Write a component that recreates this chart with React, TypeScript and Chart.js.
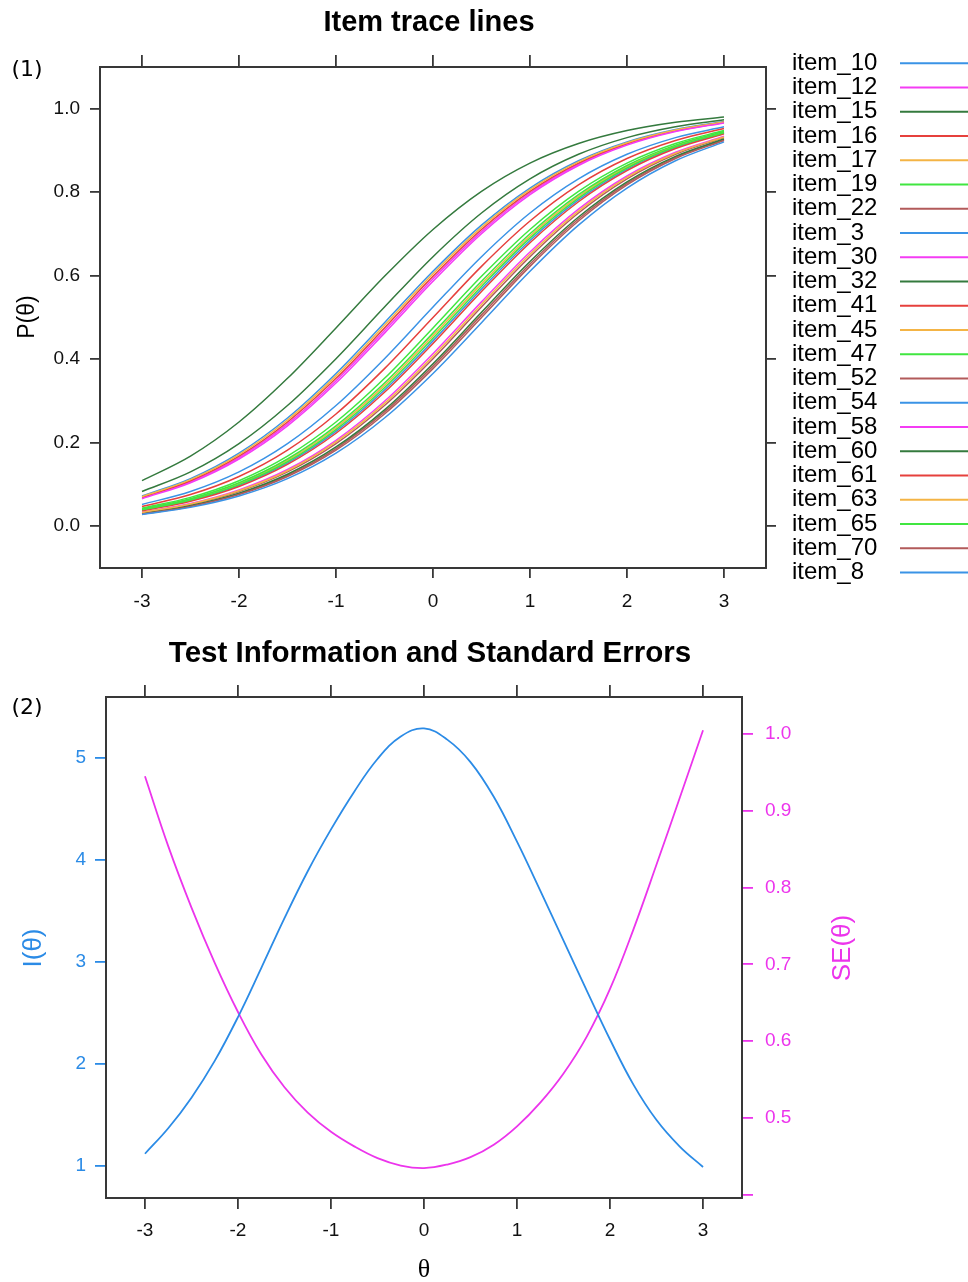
import React, { useEffect, useRef } from "react";
import { Chart, registerables } from "chart.js";

Chart.register(...registerables);

// ---------------- data ----------------
const THETA_GRID = [-3, -2.5, -2, -1.5, -1, -0.5, 0, 0.5, 1, 1.5, 2, 2.5, 3];
const THETA_TICKS = [-3, -2, -1, 0, 1, 2, 3];
const THETA_TICK_LABELS = ["-3", "-2", "-1", "0", "1", "2", "3"];
const P_TICKS = [0, 0.2, 0.4, 0.6, 0.8, 1.0];
const P_TICK_LABELS = ["0.0", "0.2", "0.4", "0.6", "0.8", "1.0"];

const ITEM_NAMES = [
  "item_10", "item_12", "item_15", "item_16", "item_17", "item_19", "item_22",
  "item_3", "item_30", "item_32", "item_41", "item_45", "item_47", "item_52",
  "item_54", "item_58", "item_60", "item_61", "item_63", "item_65", "item_70", "item_8",
];

// P(theta) of each item at THETA_GRID, in ITEM_NAMES order
const ITEM_P = [
  [0.0724, 0.1140, 0.1751, 0.2592, 0.3659, 0.4875, 0.6106, 0.7211, 0.8100, 0.8754, 0.9206, 0.9503, 0.9693], // item_10
  [0.0676, 0.1067, 0.1646, 0.2451, 0.3487, 0.4688, 0.5927, 0.7058, 0.7982, 0.8670, 0.9149, 0.9466, 0.9669], // item_12
  [0.1091, 0.1680, 0.2497, 0.3543, 0.4750, 0.5987, 0.7109, 0.8022, 0.8699, 0.9168, 0.9478, 0.9677, 0.9802], // item_15
  [0.0691, 0.1091, 0.1680, 0.2497, 0.3543, 0.4750, 0.5987, 0.7109, 0.8022, 0.8699, 0.9168, 0.9478, 0.9677], // item_16
  [0.0708, 0.1116, 0.1716, 0.2545, 0.3601, 0.4813, 0.6047, 0.7160, 0.8061, 0.8727, 0.9187, 0.9491, 0.9685], // item_17
  [0.0431, 0.0691, 0.1091, 0.1680, 0.2497, 0.3543, 0.4750, 0.5987, 0.7109, 0.8022, 0.8699, 0.9168, 0.9478], // item_19
  [0.0323, 0.0522, 0.0832, 0.1301, 0.1978, 0.2891, 0.4013, 0.5250, 0.6457, 0.7503, 0.8320, 0.8909, 0.9309], // item_22
  [0.0522, 0.0832, 0.1301, 0.1978, 0.2891, 0.4013, 0.5250, 0.6457, 0.7503, 0.8320, 0.8909, 0.9309, 0.9569], // item_3
  [0.0660, 0.1043, 0.1611, 0.2405, 0.3430, 0.4626, 0.5866, 0.7006, 0.7941, 0.8641, 0.9129, 0.9454, 0.9661], // item_30
  [0.0832, 0.1301, 0.1978, 0.2891, 0.4013, 0.5250, 0.6457, 0.7503, 0.8320, 0.8909, 0.9309, 0.9569, 0.9734], // item_32
  [0.0474, 0.0759, 0.1192, 0.1824, 0.2689, 0.3775, 0.5000, 0.6225, 0.7311, 0.8176, 0.8808, 0.9241, 0.9526], // item_41
  [0.0402, 0.0645, 0.1021, 0.1578, 0.2360, 0.3374, 0.4564, 0.5805, 0.6953, 0.7900, 0.8611, 0.9109, 0.9441], // item_45
  [0.0411, 0.0660, 0.1043, 0.1611, 0.2405, 0.3430, 0.4626, 0.5866, 0.7006, 0.7941, 0.8641, 0.9129, 0.9454], // item_47
  [0.0300, 0.0486, 0.0777, 0.1219, 0.1862, 0.2739, 0.3835, 0.5063, 0.6283, 0.7360, 0.8213, 0.8834, 0.9259], // item_52
  [0.0383, 0.0616, 0.0976, 0.1513, 0.2271, 0.3263, 0.4440, 0.5683, 0.6846, 0.7816, 0.8550, 0.9068, 0.9413], // item_54
  [0.0339, 0.0546, 0.0871, 0.1359, 0.2059, 0.2994, 0.4134, 0.5374, 0.6570, 0.7595, 0.8389, 0.8957, 0.9340], // item_58
  [0.0307, 0.0497, 0.0794, 0.1246, 0.1900, 0.2789, 0.3894, 0.5125, 0.6341, 0.7408, 0.8249, 0.8860, 0.9276], // item_60
  [0.0373, 0.0601, 0.0953, 0.1481, 0.2227, 0.3208, 0.4378, 0.5622, 0.6792, 0.7773, 0.8519, 0.9047, 0.9399], // item_61
  [0.0331, 0.0534, 0.0852, 0.1330, 0.2019, 0.2943, 0.4074, 0.5312, 0.6514, 0.7549, 0.8355, 0.8933, 0.9325], // item_63
  [0.0392, 0.0630, 0.0998, 0.1545, 0.2315, 0.3318, 0.4502, 0.5744, 0.6900, 0.7858, 0.8581, 0.9089, 0.9427], // item_65
  [0.0293, 0.0474, 0.0759, 0.1192, 0.1824, 0.2689, 0.3775, 0.5000, 0.6225, 0.7311, 0.8176, 0.8808, 0.9241], // item_70
  [0.0279, 0.0452, 0.0724, 0.1140, 0.1751, 0.2592, 0.3659, 0.4875, 0.6106, 0.7211, 0.8100, 0.8754, 0.9206], // item_8
];

const INFO_THETA = [-3, -2.75, -2.5, -2.25, -2, -1.75, -1.5, -1.25, -1, -0.75, -0.5, -0.25, 0, 0.25, 0.5, 0.75, 1, 1.25, 1.5, 1.75, 2, 2.25, 2.5, 2.75, 3];
const INFO_VALUES = [1.12, 1.37, 1.67, 2.03, 2.46, 2.94, 3.43, 3.89, 4.30, 4.67, 4.99, 5.21, 5.29, 5.18, 4.96, 4.62, 4.18, 3.70, 3.21, 2.72, 2.24, 1.80, 1.45, 1.19, 0.99];
const SE_VALUES = [0.945, 0.854, 0.774, 0.702, 0.638, 0.583, 0.540, 0.507, 0.482, 0.463, 0.4477, 0.4381, 0.4348, 0.4394, 0.449, 0.4652, 0.4891, 0.520, 0.558, 0.606, 0.668, 0.745, 0.830, 0.917, 1.005];
const INFO_TICKS = [1, 2, 3, 4, 5];
const INFO_TICK_LABELS = ["1", "2", "3", "4", "5"];
const SE_TICKS = [0.4, 0.5, 0.6, 0.7, 0.8, 0.9, 1.0];
const SE_TICK_LABELS = ["", "0.5", "0.6", "0.7", "0.8", "0.9", "1.0"];

// ---------------- styles ----------------
const FONT = "'Liberation Sans', Arial, Helvetica, sans-serif";
const AXIS = "#383838";
const C_BLUE = "#3a93e6";
const C_MAGENTA = "#f43cf4";
const C_DKGREEN = "#347a3e";
const C_RED = "#e6403c";
const C_ORANGE = "#f4b445";
const C_GREEN = "#40e640";
const C_BROWN = "#b25a5a";
const PALETTE = [C_BLUE, C_MAGENTA, C_DKGREEN, C_RED, C_ORANGE, C_GREEN, C_BROWN];
const INFO_BLUE = "#2b8be6";
const SE_MAGENTA = "#ec34ec";

type AxisCfg = {
  position: "left" | "right" | "top" | "bottom";
  min: number;
  max: number;
  ticks: number[];
  labels?: string[];
  size: number;
  tickColor?: string;
  labelColor?: string;
  tickLength?: number;
  padding?: number;
};

function axis(c: AxisCfg): any {
  const horizontal = c.position === "top" || c.position === "bottom";
  return {
    type: "linear",
    position: c.position,
    min: c.min,
    max: c.max,
    afterBuildTicks: (s: any) => {
      s.ticks = c.ticks.map((v) => ({ value: v }));
    },
    afterFit: (s: any) => {
      if (horizontal) s.height = c.size;
      else s.width = c.size;
    },
    grid: {
      display: true,
      drawOnChartArea: false,
      drawTicks: true,
      tickLength: c.tickLength ?? 10,
      tickColor: c.tickColor ?? AXIS,
      tickWidth: 1.8,
      color: c.tickColor ?? AXIS,
      lineWidth: 1.8,
    },
    border: { display: true, color: AXIS, width: 2 },
    ticks: {
      display: !!c.labels,
      autoSkip: false,
      maxRotation: 0,
      minRotation: 0,
      padding: c.padding ?? 10,
      color: c.labelColor ?? "#111111",
      font: { family: FONT, size: 19 },
      callback: (_v: any, i: number) => (c.labels ? c.labels[i] : ""),
    },
  };
}

function rotatedText(ctx: CanvasRenderingContext2D, text: string, x: number, y: number, font: string, color: string) {
  ctx.save();
  ctx.translate(x, y);
  ctx.rotate(-Math.PI / 2);
  ctx.font = font;
  ctx.fillStyle = color;
  ctx.textAlign = "center";
  ctx.textBaseline = "middle";
  ctx.fillText(text, 0, 0);
  ctx.restore();
}

const topDecor = {
  id: "topDecor",
  afterDraw(chart: any) {
    const ctx: CanvasRenderingContext2D = chart.ctx;
    ctx.save();
    ctx.fillStyle = "#000";
    ctx.textAlign = "center";
    ctx.textBaseline = "middle";
    ctx.font = `bold 29px ${FONT}`;
    ctx.fillText("Item trace lines", 429, 23);
    ctx.font = "22px 'DejaVu Sans', sans-serif";
    ctx.fillText("(1)", 27, 70);
    rotatedText(ctx, "P(θ)", 28, 317, `23px ${FONT}`, "#000");
    ctx.textAlign = "left";
    ctx.font = `24px ${FONT}`;
    ITEM_NAMES.forEach((name, i) => {
      const y = 63.3 + i * 24.25;
      ctx.fillStyle = "#000";
      ctx.fillText(name, 792, y);
      ctx.strokeStyle = PALETTE[i % PALETTE.length];
      ctx.lineWidth = 2;
      ctx.beginPath();
      ctx.moveTo(900, y);
      ctx.lineTo(968, y);
      ctx.stroke();
    });
    ctx.restore();
  },
};

const bottomDecor = {
  id: "bottomDecor",
  afterDraw(chart: any) {
    const ctx: CanvasRenderingContext2D = chart.ctx;
    ctx.save();
    ctx.fillStyle = "#000";
    ctx.textAlign = "center";
    ctx.textBaseline = "middle";
    ctx.font = `bold 29.5px ${FONT}`;
    ctx.fillText("Test Information and Standard Errors", 430, 24);
    ctx.font = "22px 'DejaVu Sans', sans-serif";
    ctx.fillText("(2)", 27, 78);
    rotatedText(ctx, "I(θ)", 34, 318, `26px ${FONT}`, INFO_BLUE);
    rotatedText(ctx, "SE(θ)", 843, 318, `26px ${FONT}`, SE_MAGENTA);
    ctx.fillStyle = "#000";
    ctx.font = "26px 'Liberation Serif', 'Times New Roman', serif";
    ctx.fillText("θ", 424, 640);
    ctx.restore();
  },
};

function TopChart() {
  const ref = useRef<HTMLCanvasElement>(null);
  useEffect(() => {
    const datasets = ITEM_NAMES.map((name, i) => ({
      label: name,
      data: THETA_GRID.map((t, j) => ({ x: t, y: ITEM_P[i][j] })),
      borderColor: PALETTE[i % PALETTE.length],
      borderWidth: 1.5,
      pointRadius: 0,
      fill: false,
      cubicInterpolationMode: "monotone" as const,
      xAxisID: "x",
      yAxisID: "y",
      order: -i,
    }));
    const chart = new Chart(ref.current!, {
      type: "line",
      data: { datasets },
      plugins: [topDecor],
      options: {
        animation: false,
        responsive: false,
        devicePixelRatio: 1,
        layout: { padding: 0 },
        plugins: { legend: { display: false }, tooltip: { enabled: false }, title: { display: false } },
        scales: {
          x: axis({ position: "bottom", min: -3.433, max: 3.433, ticks: THETA_TICKS, labels: THETA_TICK_LABELS, size: 62, padding: 12 }),
          x2: axis({ position: "top", min: -3.433, max: 3.433, ticks: THETA_TICKS, size: 67, tickLength: 12 }),
          y: axis({ position: "left", min: -0.1, max: 1.1, ticks: P_TICKS, labels: P_TICK_LABELS, size: 100, padding: 10 }),
          y2: axis({ position: "right", min: -0.1, max: 1.1, ticks: P_TICKS, size: 202 }),
        },
      } as any,
    });
    return () => chart.destroy();
  }, []);
  return <canvas ref={ref} width={968} height={630} style={{ display: "block", width: 968, height: 630 }} />;
}

function BottomChart() {
  const ref = useRef<HTMLCanvasElement>(null);
  useEffect(() => {
    const chart = new Chart(ref.current!, {
      type: "line",
      data: {
        datasets: [
          {
            label: "I(θ)",
            data: INFO_THETA.map((t, j) => ({ x: t, y: INFO_VALUES[j] })),
            borderColor: INFO_BLUE,
            borderWidth: 1.8,
            pointRadius: 0,
            fill: false,
            tension: 0.4,
            xAxisID: "x",
            yAxisID: "y",
          },
          {
            label: "SE(θ)",
            data: INFO_THETA.map((t, j) => ({ x: t, y: SE_VALUES[j] })),
            borderColor: SE_MAGENTA,
            borderWidth: 1.8,
            pointRadius: 0,
            fill: false,
            tension: 0.4,
            xAxisID: "x",
            yAxisID: "y2",
          },
        ],
      },
      plugins: [bottomDecor],
      options: {
        animation: false,
        responsive: false,
        devicePixelRatio: 1,
        layout: { padding: 0 },
        plugins: { legend: { display: false }, tooltip: { enabled: false }, title: { display: false } },
        scales: {
          x: axis({ position: "bottom", min: -3.419, max: 3.419, ticks: THETA_TICKS, labels: THETA_TICK_LABELS, size: 84, tickLength: 11, padding: 10 }),
          x2: axis({ position: "top", min: -3.419, max: 3.419, ticks: THETA_TICKS, size: 67, tickLength: 12 }),
          y: axis({ position: "left", min: 0.686, max: 5.598, ticks: INFO_TICKS, labels: INFO_TICK_LABELS, size: 106, tickColor: INFO_BLUE, labelColor: INFO_BLUE, tickLength: 11, padding: 9 }),
          y2: axis({ position: "right", min: 0.3958, max: 1.0482, ticks: SE_TICKS, labels: SE_TICK_LABELS, size: 226, tickColor: SE_MAGENTA, labelColor: SE_MAGENTA, tickLength: 11, padding: 12 }),
        },
      } as any,
    });
    return () => chart.destroy();
  }, []);
  return <canvas ref={ref} width={968} height={652} style={{ display: "block", width: 968, height: 652 }} />;
}

export default function App() {
  return (
    <div style={{ position: "absolute", left: 0, top: 0, width: 968, height: 1282, background: "#fff", overflow: "hidden" }}>
      <TopChart />
      <BottomChart />
    </div>
  );
}
